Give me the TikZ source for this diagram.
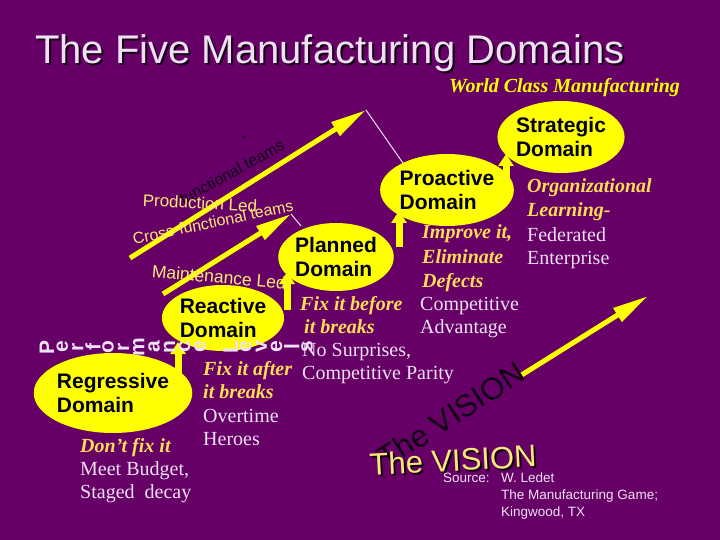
\documentclass[tikz,border=0pt]{standalone}
\usepackage{fontspec}
\setmainfont{Liberation Serif}
\setsansfont{Liberation Sans}
\usetikzlibrary{arrows.meta,shapes.geometric}
\definecolor{bg}{RGB}{102,0,102}
\definecolor{ylw}{RGB}{255,255,0}
\definecolor{gold}{RGB}{255,221,85}
\definecolor{ylt}{RGB}{250,232,120}
\definecolor{lav}{RGB}{240,224,245}
\definecolor{navy}{RGB}{0,0,40}
\definecolor{darktxt}{RGB}{15,0,20}
\tikzset{
  dom/.style={ellipse, fill=ylw, inner sep=0pt, align=left, text=navy,
    font=\sffamily\bfseries\fontsize{21}{23.5}\selectfont},
  gld/.style={anchor=base west, inner sep=0pt, text=gold,
    font=\rmfamily\bfseries\itshape\fontsize{20}{23}\selectfont},
  wht/.style={anchor=base west, inner sep=0pt, text=lav,
    font=\rmfamily\fontsize{20}{23}\selectfont},
  src/.style={anchor=base west, inner sep=0pt, text=lav,
    font=\sffamily\fontsize{13.5}{17}\selectfont},
  bigarrow/.style={draw=ylw, line width=5pt, -{Triangle[length=36pt,width=15pt]}},
  uparrow/.style={draw=ylw, line width=7pt, -{Triangle[length=12pt,width=15pt]}},
  thinline/.style={draw=lav, line width=1pt},
  skew/.style={inner sep=0pt, font=\sffamily\fontsize{16}{16}\selectfont}
}
\begin{document}
\begin{tikzpicture}[x=1pt,y=-1pt]
\fill[bg] (0,0) rectangle (720,540);
\useasboundingbox (0,0) rectangle (720,540);

% title
\node[anchor=base west, inner sep=0pt, text=black!80!bg, font=\sffamily\fontsize{40}{40}\selectfont] (titlesh) at (37,66) {The Five Manufacturing Domains};
\node[anchor=base west, inner sep=0pt, text=lav, font=\sffamily\fontsize{40}{40}\selectfont] (title) at (35,64) {The Five Manufacturing Domains};
\node[anchor=base west, inner sep=0pt, text=ylw, font=\rmfamily\bfseries\itshape\fontsize{20}{20}\selectfont] (wcm) at (449,93) {World Class Manufacturing};

% coordinates for arrows
\coordinate (a1s) at (130,258); \coordinate (a1e) at (366,110);
\coordinate (a2s) at (163,294); \coordinate (a2e) at (291,214);
\coordinate (a3s) at (520,376); \coordinate (a3e) at (648,296);
\coordinate (p1) at (405,166); \coordinate (p2) at (301,226);
\coordinate (u1s) at (178,378); \coordinate (u1e) at (178,342);
\coordinate (u2s) at (287,310); \coordinate (u2e) at (287,272);
\coordinate (u3s) at (399,247); \coordinate (u3e) at (399,211);
\coordinate (u4s) at (506,188); \coordinate (u4e) at (506,154);

% thin white leader lines
\draw[thinline] (a1e) -- (p1);
\draw[thinline] (a2e) -- (p2);

% garbled diagonal labels
\node[skew, text=darktxt, rotate=29] (cft1) at (232,172) {functional teams};
\node[skew, text=darktxt, rotate=29] (dash) at (245,139) {-};

% big arrows
\draw[bigarrow] (a1s) -- (a1e);
\draw[bigarrow] (a2s) -- (a2e);
\draw[bigarrow] (a3s) -- (a3e);

\node[skew, text=ylt, rotate=12] (cft2) at (213,222) {Cross-functional teams};
\node[skew, text=ylt, rotate=-3, font=\sffamily\fontsize{17}{17}\selectfont] (prodled) at (200,203) {Production Led};
\node[skew, text=ylt, rotate=-5, font=\sffamily\fontsize{17.5}{17.5}\selectfont] (maint) at (219,277) {Maintenance Led};

% domains
\node[dom, minimum width=114, minimum height=72] (str) at (561,137) {Strategic\\Domain};
\node[dom, minimum width=116, minimum height=72] (pro) at (447,190) {Proactive\\Domain};
\node[dom, minimum width=114, minimum height=68] (pla) at (336,257) {Planned\\Domain};
\node[dom, minimum width=114, minimum height=66] (rea) at (223,318) {Reactive\\Domain};
\node[dom, minimum width=132, minimum height=80] (reg) at (113,393) {Regressive\\Domain};

% up arrows
\draw[uparrow] (u1s) -- (u1e);
\draw[uparrow] (u2s) -- (u2e);
\draw[uparrow] (u3s) -- (u3e);
\draw[uparrow] (u4s) -- (u4e);

% text blocks
\node[gld] (org1) at (527,193) {Organizational};
\node[gld] (org2) at (527,217) {Learning-};
\node[wht] (fed1) at (527,241) {Federated};
\node[wht] (fed2) at (527,264) {Enterprise};

\node[gld] (imp1) at (422,239) {Improve it,};
\node[gld] (imp2) at (422,263) {Eliminate};
\node[gld] (imp3) at (422,287) {Defects};
\node[wht] (cmp1) at (420,310) {Competitive};
\node[wht] (cmp2) at (420,333) {Advantage};

\node[gld] (fb1) at (300,310) {Fix it before};
\node[gld] (fb2) at (304,333) {it breaks};
\node[wht] (ns1) at (302,356) {No Surprises,};
\node[wht] (ns2) at (302,379) {Competitive Parity};

\node[gld] (fa1) at (203,375) {Fix it after};
\node[gld] (fa2) at (203,398) {it breaks};
\node[wht] (ot1) at (203,422) {Overtime};
\node[wht] (ot2) at (203,445) {Heroes};

\node[gld] (df1) at (80,452) {Don’t fix it};
\node[wht] (mb1) at (80,475) {Meet Budget,};
\node[wht] (mb2) at (80,498) {Staged\ \ decay};

% Performance Levels (rotated glyphs)
\foreach \ch [count=\i] in {P,e,r,f,o,r,m,a,n,c,e,{},L,e,v,e,l,s} {
  \node[inner sep=0pt, rotate=90, text=lav, font=\sffamily\bfseries\fontsize{21}{21}\selectfont] (pl\i) at ({47+(\i-1)*15.3},347) {\ch};
}

% The VISION
\node[inner sep=0pt, rotate=33, text=darktxt, font=\sffamily\fontsize{31}{31}\selectfont] (vis1) at (451,415) {The VISION};
\node[inner sep=0pt, rotate=3, text=black!85!bg, font=\sffamily\fontsize{31}{31}\selectfont] (vis2s) at (455,462) {The VISION};
\node[inner sep=0pt, rotate=3, text=ylt, font=\sffamily\fontsize{31}{31}\selectfont] (vis2) at (453,460) {The VISION};

% source
\node[src] (s1) at (443,482) {Source:};
\node[src] (s2) at (501,482) {W. Ledet};
\node[src] (s3) at (501,499) {The Manufacturing Game;};
\node[src] (s4) at (501,516) {Kingwood, TX};
\end{tikzpicture}
\end{document}
